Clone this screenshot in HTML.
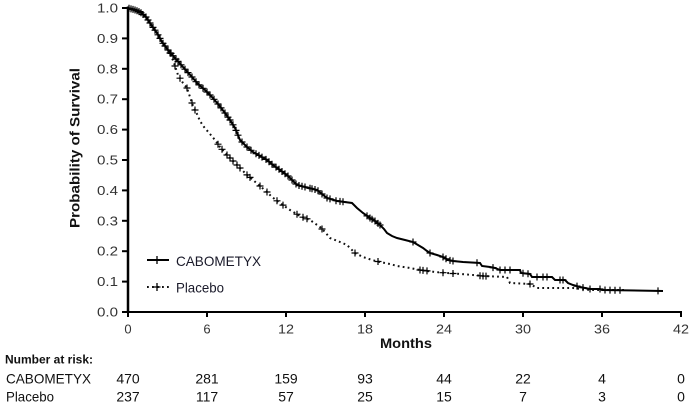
<!DOCTYPE html>
<html>
<head>
<meta charset="utf-8">
<style>
  html,body{margin:0;padding:0;background:#fff;}
  svg{display:block;}
  text{font-family:"Liberation Sans", Arial, sans-serif;}
</style>
</head>
<body>
<svg id="chart" width="690" height="408" viewBox="0 0 690 408" xmlns="http://www.w3.org/2000/svg">
  <rect width="690" height="408" fill="#fff"/>

  <!-- curves -->
  <polyline id="pla" fill="none" stroke="#111" stroke-width="2" stroke-dasharray="1.8 3.2"
    points="128,8 135,10 140,12 146,17 152,26 157,33 162,42 166,47 170,53 174,63 178,75 183,83 187,88 190,97 193,106 197,114 200,121 204,127 210,134 215,140 220,147 227,155 233,161 240,168 246,174 253,180 260,186 267,192 272,197 280,203 290,210 300,216 310,220 320,227 325,232 330,238 340,242 347,245 355,253 363,257 372,260 380,262 390,264 397,266 410,268 420,270 435,272 447,273 460,274 473,275 483,276 507,277 510,283 530,284 537,288 573,288 590,290 625,290"/>
  <polyline id="cab" fill="none" stroke="#000" stroke-width="2"
    points="128,8 135,10 140,12 146,17 152,26 157,33 162,42 168,50 175,58 183,67 192,77 198,84 205,90 212,97 218,104 225,113 230,120 235,128 240,140 247,147 253,152 260,156 267,160 273,165 280,170 288,176 297,185 305,187 317,190 322,194 327,198 337,201 352,203 357,208 363,213 370,218 375,221 380,225 384,229 387,233 392,236 397,238 405,240 413,242 418,245 423,248 427,251 430,253 437,255 443,257 448,260 453,261 463,262 480,263 482,266 490,267 495,268 500,270 520,270 521,273 530,274 532,277 552,277 555,280 565,280 568,283 573,285 580,287 590,289 600,289 602,290 663,291"/>
  <path id="marks" fill="none" stroke="#000" stroke-width="1.2" d=""/>

  <!-- axes -->
  <line x1="128" y1="6.5" x2="128" y2="313" stroke="#000" stroke-width="2.5"/>
  <line x1="127" y1="312" x2="682" y2="312" stroke="#000" stroke-width="2"/>
  <g stroke="#000" stroke-width="2">
    <line x1="122" y1="8" x2="128" y2="8"/>
    <line x1="122" y1="38.4" x2="128" y2="38.4"/>
    <line x1="122" y1="68.8" x2="128" y2="68.8"/>
    <line x1="122" y1="99.2" x2="128" y2="99.2"/>
    <line x1="122" y1="129.6" x2="128" y2="129.6"/>
    <line x1="122" y1="160" x2="128" y2="160"/>
    <line x1="122" y1="190.4" x2="128" y2="190.4"/>
    <line x1="122" y1="220.8" x2="128" y2="220.8"/>
    <line x1="122" y1="251.2" x2="128" y2="251.2"/>
    <line x1="122" y1="281.6" x2="128" y2="281.6"/>
    <line x1="122" y1="312" x2="128" y2="312"/>
    <line x1="128" y1="312" x2="128" y2="317"/>
    <line x1="207" y1="312" x2="207" y2="317"/>
    <line x1="286" y1="312" x2="286" y2="317"/>
    <line x1="365" y1="312" x2="365" y2="317"/>
    <line x1="444" y1="312" x2="444" y2="317"/>
    <line x1="523" y1="312" x2="523" y2="317"/>
    <line x1="602" y1="312" x2="602" y2="317"/>
    <line x1="681" y1="312" x2="681" y2="317"/>
  </g>

  <!-- y tick labels -->
  <g font-size="13" fill="#333" text-anchor="end">
    <text x="118" y="12.5" textLength="21" lengthAdjust="spacingAndGlyphs">1.0</text>
    <text x="118" y="42.9" textLength="21" lengthAdjust="spacingAndGlyphs">0.9</text>
    <text x="118" y="73.3" textLength="21" lengthAdjust="spacingAndGlyphs">0.8</text>
    <text x="118" y="103.7" textLength="21" lengthAdjust="spacingAndGlyphs">0.7</text>
    <text x="118" y="134.1" textLength="21" lengthAdjust="spacingAndGlyphs">0.6</text>
    <text x="118" y="164.5" textLength="21" lengthAdjust="spacingAndGlyphs">0.5</text>
    <text x="118" y="194.9" textLength="21" lengthAdjust="spacingAndGlyphs">0.4</text>
    <text x="118" y="225.3" textLength="21" lengthAdjust="spacingAndGlyphs">0.3</text>
    <text x="118" y="255.7" textLength="21" lengthAdjust="spacingAndGlyphs">0.2</text>
    <text x="118" y="286.1" textLength="21" lengthAdjust="spacingAndGlyphs">0.1</text>
    <text x="118" y="316.5" textLength="21" lengthAdjust="spacingAndGlyphs">0.0</text>
  </g>
  <!-- x tick labels -->
  <g font-size="13" fill="#333" text-anchor="middle">
    <text x="128" y="333.5">0</text>
    <text x="207" y="333.5">6</text>
    <text x="286" y="333.5" textLength="16" lengthAdjust="spacingAndGlyphs">12</text>
    <text x="365" y="333.5" textLength="16" lengthAdjust="spacingAndGlyphs">18</text>
    <text x="444" y="333.5" textLength="16" lengthAdjust="spacingAndGlyphs">24</text>
    <text x="523" y="333.5" textLength="16" lengthAdjust="spacingAndGlyphs">30</text>
    <text x="602" y="333.5" textLength="16" lengthAdjust="spacingAndGlyphs">36</text>
    <text x="681" y="333.5" textLength="16" lengthAdjust="spacingAndGlyphs">42</text>
  </g>

  <!-- axis titles -->
  <text transform="translate(79.5,148) rotate(-90)" text-anchor="middle" font-size="13.5" font-weight="bold" fill="#111" textLength="160" lengthAdjust="spacingAndGlyphs">Probability of Survival</text>
  <text x="406" y="348" text-anchor="middle" font-size="14" font-weight="bold" fill="#111" textLength="52" lengthAdjust="spacingAndGlyphs">Months</text>

  <!-- legend -->
  <line x1="147" y1="260" x2="169" y2="260" stroke="#000" stroke-width="2"/>
  <path d="M153.5 260 h7 M157 256 v8" stroke="#000" stroke-width="1.3"/>
  <line x1="147" y1="287" x2="170" y2="287" stroke="#111" stroke-width="2" stroke-dasharray="1.8 3.2"/>
  <path d="M153.5 287 h7 M157 283 v8" stroke="#000" stroke-width="1.3"/>
  <text x="176" y="266" font-size="14" fill="#1a1a2a" textLength="85" lengthAdjust="spacingAndGlyphs">CABOMETYX</text>
  <text x="176" y="292.5" font-size="14" fill="#1a1a2a" textLength="48" lengthAdjust="spacingAndGlyphs">Placebo</text>

  <!-- number at risk -->
  <text x="5" y="363.5" font-size="12" font-weight="bold" fill="#111" textLength="88" lengthAdjust="spacingAndGlyphs">Number at risk:</text>
  <text x="6" y="383.5" font-size="14" fill="#111" textLength="85" lengthAdjust="spacingAndGlyphs">CABOMETYX</text>
  <text x="6" y="401.5" font-size="14" fill="#111" textLength="48" lengthAdjust="spacingAndGlyphs">Placebo</text>
  <g font-size="14" fill="#111" text-anchor="middle">
    <text x="128" y="383.5">470</text>
    <text x="207" y="383.5">281</text>
    <text x="286" y="383.5">159</text>
    <text x="365" y="383.5">93</text>
    <text x="444" y="383.5">44</text>
    <text x="523" y="383.5">22</text>
    <text x="602" y="383.5">4</text>
    <text x="681" y="383.5">0</text>
    <text x="128" y="401.5">237</text>
    <text x="207" y="401.5">117</text>
    <text x="286" y="401.5">57</text>
    <text x="365" y="401.5">25</text>
    <text x="444" y="401.5">15</text>
    <text x="523" y="401.5">7</text>
    <text x="602" y="401.5">3</text>
    <text x="681" y="401.5">0</text>
  </g>
</svg>
<script>
(function(){
  function parse(id){
    return document.getElementById(id).getAttribute('points').trim().split(/\s+/).map(function(p){var a=p.split(',');return [+a[0],+a[1]];});
  }
  function interp(pts,x){
    for(var i=0;i<pts.length-1;i++){
      var a=pts[i],b=pts[i+1];
      if(x>=a[0]&&x<=b[0]){
        if(b[0]===a[0]) return a[1];
        return a[1]+(b[1]-a[1])*(x-a[0])/(b[0]-a[0]);
      }
    }
    return pts[pts.length-1][1];
  }
  var cab=parse('cab'), pla=parse('pla');
  var cabX=[129,131,133,135,137,139,141,143,146,148,150,153,155,158,160,163,165,168,171,173,176,178,181,185,188,192,196,199,203,207,210,214,218,221,225,228,230,233,236,238,242,247,251,256,259,262,266,269,272,276,279,282,285,288,292,296,299,302,305,310,312,315,318,322,327,330,336,340,343,367,370,372,375,378,380,413,430,443,446,450,453,477,493,500,505,510,523,528,537,543,547,560,563,577,583,590,600,605,610,615,620,658];
  var plaX=[170,175,180,187,192,195,218,222,227,230,233,237,240,247,250,260,267,277,283,297,303,307,322,355,378,420,423,427,443,453,480,483,486,530];
  var d='';
  function add(x,y){ d+='M'+(x-3.5).toFixed(1)+' '+y.toFixed(1)+'h7M'+x.toFixed(1)+' '+(y-3.5).toFixed(1)+'v7'; }
  cabX.forEach(function(x){add(x,interp(cab,x));});
  plaX.forEach(function(x){add(x,interp(pla,x));});
  document.getElementById('marks').setAttribute('d',d);
})();
</script>
</body>
</html>
